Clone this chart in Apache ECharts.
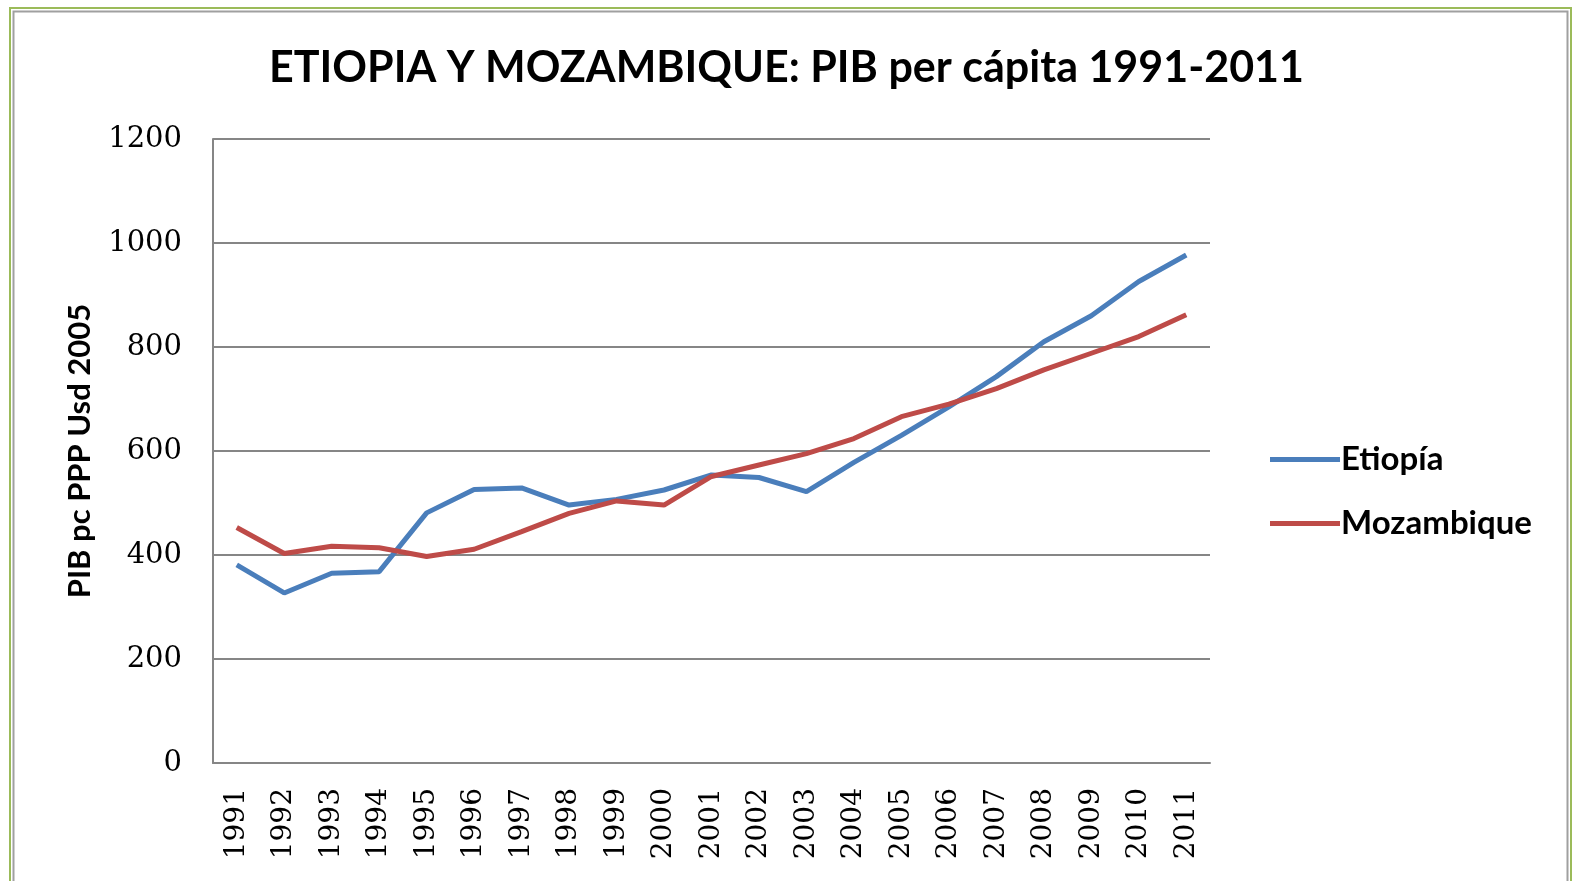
<!DOCTYPE html>
<html><head><meta charset="utf-8">
<script src="https://cdn.jsdelivr.net/npm/echarts@6/dist/echarts.min.js"></script>
<style>html,body{margin:0;padding:0;background:#fff}#c{width:1573px;height:881px}</style>
</head><body><div id="c"></div>
<script>
const years = ['1991','1992','1993','1994','1995','1996','1997','1998','1999','2000','2001','2002','2003','2004','2005','2006','2007','2008','2009','2010','2011'];
const etiopia = [381,327,365,368,481,526,529,496,507,525,554,549,522,578,630,685,743,810,860,926,977];
const mozambique = [453,403,417,414,397,411,445,480,504,496,551,573,595,624,666,690,720,756,788,820,862];
const yTicks = [0,200,400,600,800,1000,1200];
const titleText = 'ETIOPIA Y MOZAMBIQUE: PIB per cápita 1991-2011';
const yName = 'PIB pc PPP Usd 2005';

const chart = echarts.init(document.getElementById('c'));
chart.setOption({
  animation:false,
  backgroundColor:'#fff',
  title:{text:titleText,left:'center',top:42,textStyle:{fontFamily:'Lato',fontWeight:'bold',fontSize:43,color:'#000'}},
  legend:{orient:'vertical',left:1265,top:438,itemWidth:70,itemHeight:5,itemGap:31,
    textStyle:{fontFamily:'Lato',fontWeight:'bold',fontSize:33,color:'#000',padding:[0,0,0,-4]},
    icon:'rect',data:['Etiopía','Mozambique']},
  grid:{left:213,top:139,right:363,bottom:118,containLabel:false},
  xAxis:{type:'category',data:years,boundaryGap:true,
    axisLine:{lineStyle:{color:'#868686',width:2}},axisTick:{show:false},
    axisLabel:{rotate:90,margin:25,fontFamily:'DejaVu Serif',fontSize:28,color:'#000',interval:0}},
  yAxis:{type:'value',min:yTicks[0],max:yTicks[yTicks.length-1],interval:200,
    name:yName,nameLocation:'middle',nameGap:118,
    nameTextStyle:{fontFamily:'Lato',fontWeight:'bold',fontSize:31,color:'#000'},
    axisLine:{show:true,lineStyle:{color:'#868686',width:2}},axisTick:{show:false},
    splitLine:{lineStyle:{color:'#868686',width:2}},
    axisLabel:{margin:31,fontFamily:'DejaVu Serif',fontSize:29,color:'#000',
      formatter:function(v){return String(v);}}},
  series:[
    {name:'Etiopía',type:'line',data:etiopia,symbol:'none',lineStyle:{color:'#4A7EBB',width:5},itemStyle:{color:'#4A7EBB'}},
    {name:'Mozambique',type:'line',data:mozambique,symbol:'none',lineStyle:{color:'#BE4B48',width:5},itemStyle:{color:'#BE4B48'}}
  ],
  graphic:[
    {type:'rect',shape:{x:10,y:8,width:1561,height:900},style:{fill:'none',stroke:'#9BBB59',lineWidth:2},silent:true},
    {type:'rect',shape:{x:13.5,y:11.5,width:1554,height:900},style:{fill:'none',stroke:'#A0A0A0',lineWidth:2},silent:true}
  ]
});
</script></body></html>
